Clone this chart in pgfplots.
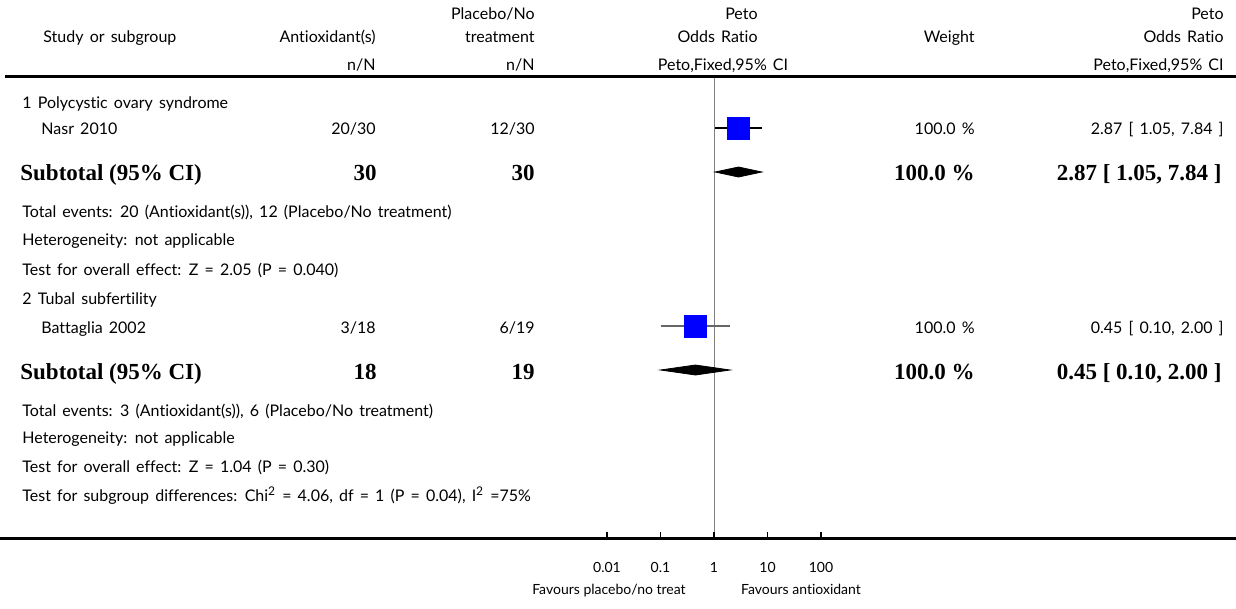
\documentclass[border=0pt]{standalone}
\usepackage{pgfplots}
\pgfplotsset{compat=1.18}
\usepackage{fontspec}
\setmainfont{Lato}[WordSpace=1.5, Ligatures=CommonOff]
\newfontfamily\serifb{Liberation Serif}
\newfontfamily\smallsans{Lato}[Ligatures=CommonOff]
\newcommand\rg{\fontsize{8}{9}\selectfont}
\newcommand\sm{\fontsize{7}{8}\selectfont\smallsans}
\newcommand\bd{\fontsize{11.5}{13}\selectfont\serifb\bfseries}
\begin{document}
\begin{tikzpicture}[x=0.5pt,y=-0.5pt, every node/.style={inner sep=0pt}]
\useasboundingbox (0,0) rectangle (1236,609);
\begin{axis}[
  at={(250pt,0pt)}, anchor=north west,
  scale only axis, width=214pt, height=304.5pt,
  xmode=log, xmin=1e-4, xmax=1e4,
  ymin=0, ymax=609, y dir=reverse,
  axis lines=none, clip=false]
% line of no effect
\addplot[gray, line width=0.5pt] coordinates {(1,77) (1,538)};
% ticks
\addplot[black, line width=0.9pt] coordinates {(0.01,538) (0.01,532)};
\addplot[black, line width=0.9pt] coordinates {(0.1,538) (0.1,532)};
\addplot[black, line width=0.9pt] coordinates {(1,538) (1,532)};
\addplot[black, line width=0.9pt] coordinates {(10,538) (10,532)};
\addplot[black, line width=0.9pt] coordinates {(100,538) (100,532)};
% Nasr 2010
\addplot[only marks, mark=square*, mark size=5.5pt, draw=blue, fill=blue] coordinates {(2.87,128)};
\addplot[black, line width=0.6pt] coordinates {(1.05,128) (7.84,128)};
\addplot[black, line width=0.6pt] coordinates {(2.87,126) (2.87,130)};
% Subtotal 1
\addplot[fill=black, draw=black] coordinates {(1.05,172) (2.87,167) (7.84,172) (2.87,177)} -- cycle;
% Battaglia 2002
\addplot[only marks, mark=square*, mark size=5.5pt, draw=blue, fill=blue] coordinates {(0.45,326)};
\addplot[black!60, line width=0.8pt] coordinates {(0.10,326) (2.00,326)};
\addplot[black, line width=0.6pt] coordinates {(0.45,324) (0.45,328)};
% Subtotal 2
\addplot[fill=black, draw=black] coordinates {(0.10,370) (0.45,365) (2.00,370) (0.45,375)} -- cycle;
% tick labels
\node[font=\sm, anchor=base] at (axis cs:0.01,572) {0.01};
\node[font=\sm, anchor=base] at (axis cs:0.1,572) {0.1};
\node[font=\sm, anchor=base] at (axis cs:1,572) {1};
\node[font=\sm, anchor=base] at (axis cs:10,572) {10};
\node[font=\sm, anchor=base] at (axis cs:100,572) {100};
\end{axis}
\draw[line width=1.5pt] (5,77) -- (1236,77);
\draw[line width=1.5pt] (0,538) -- (1236,538);
% header
\node[font=\rg, anchor=base west] at (43,43) {Study or subgroup};
\node[font=\rg, anchor=base east] at (376,43) {Antioxidant(s)};
\node[font=\rg, anchor=base east] at (376,71) {n/N};
\node[font=\rg, anchor=base east] at (535,20) {Placebo/No};
\node[font=\rg, anchor=base east] at (535,43) {treatment};
\node[font=\rg, anchor=base east] at (535,71) {n/N};
\node[font=\rg, anchor=base east] at (758,20) {Peto};
\node[font=\rg, anchor=base east] at (758,43) {Odds Ratio};
\node[font=\rg, anchor=base] at (723,71) {Peto,Fixed,95\% CI};
\node[font=\rg, anchor=base east] at (975,43) {Weight};
\node[font=\rg, anchor=base east] at (1224,20) {Peto};
\node[font=\rg, anchor=base east] at (1224,43) {Odds Ratio};
\node[font=\rg, anchor=base east] at (1224,71) {Peto,Fixed,95\% CI};
% group 1
\node[font=\rg, anchor=base west] at (22,109) {1 Polycystic ovary syndrome};
\node[font=\rg, anchor=base west] at (41,135) {Nasr 2010};
\node[font=\rg, anchor=base east] at (376,135) {20/30};
\node[font=\rg, anchor=base east] at (535,135) {12/30};
\node[font=\rg, anchor=base east] at (975,135) {100.0 \%};
\node[font=\rg, anchor=base east] at (1224,135) {2.87 [ 1.05, 7.84 ]};
\node[font=\bd, anchor=base west] at (20,181) {Subtotal (95\% CI)};
\node[font=\bd, anchor=base east] at (377,181) {30};
\node[font=\bd, anchor=base east] at (535,181) {30};
\node[font=\bd, anchor=base east] at (975,181) {100.0 \%};
\node[font=\bd, anchor=base east] at (1222,181) {2.87 [ 1.05, 7.84 ]};
\node[font=\rg, anchor=base west] at (22,218) {Total events: 20 (Antioxidant(s)), 12 (Placebo/No treatment)};
\node[font=\rg, anchor=base west] at (22,246) {Heterogeneity: not applicable};
\node[font=\rg, anchor=base west] at (22,276) {Test for overall effect: Z = 2.05 (P = 0.040)};
% group 2
\node[font=\rg, anchor=base west] at (22,304) {2 Tubal subfertility};
\node[font=\rg, anchor=base west] at (41,333) {Battaglia 2002};
\node[font=\rg, anchor=base east] at (376,333) {3/18};
\node[font=\rg, anchor=base east] at (535,333) {6/19};
\node[font=\rg, anchor=base east] at (975,333) {100.0 \%};
\node[font=\rg, anchor=base east] at (1224,333) {0.45 [ 0.10, 2.00 ]};
\node[font=\bd, anchor=base west] at (20,379) {Subtotal (95\% CI)};
\node[font=\bd, anchor=base east] at (377,379) {18};
\node[font=\bd, anchor=base east] at (535,379) {19};
\node[font=\bd, anchor=base east] at (975,379) {100.0 \%};
\node[font=\bd, anchor=base east] at (1222,379) {0.45 [ 0.10, 2.00 ]};
\node[font=\rg, anchor=base west] at (22,416) {Total events: 3 (Antioxidant(s)), 6 (Placebo/No treatment)};
\node[font=\rg, anchor=base west] at (22,443) {Heterogeneity: not applicable};
\node[font=\rg, anchor=base west] at (22,472) {Test for overall effect: Z = 1.04 (P = 0.30)};
\node[font=\rg, anchor=base west] at (22,501) {Test for subgroup differences: Chi\textsuperscript{2} = 4.06, df = 1 (P = 0.04), I\textsuperscript{2} =75\%};
% favours
\node[font=\sm, anchor=base] at (609,594) {Favours placebo/no treat};
\node[font=\sm, anchor=base] at (801,594) {Favours antioxidant};
\end{tikzpicture}
\end{document}
